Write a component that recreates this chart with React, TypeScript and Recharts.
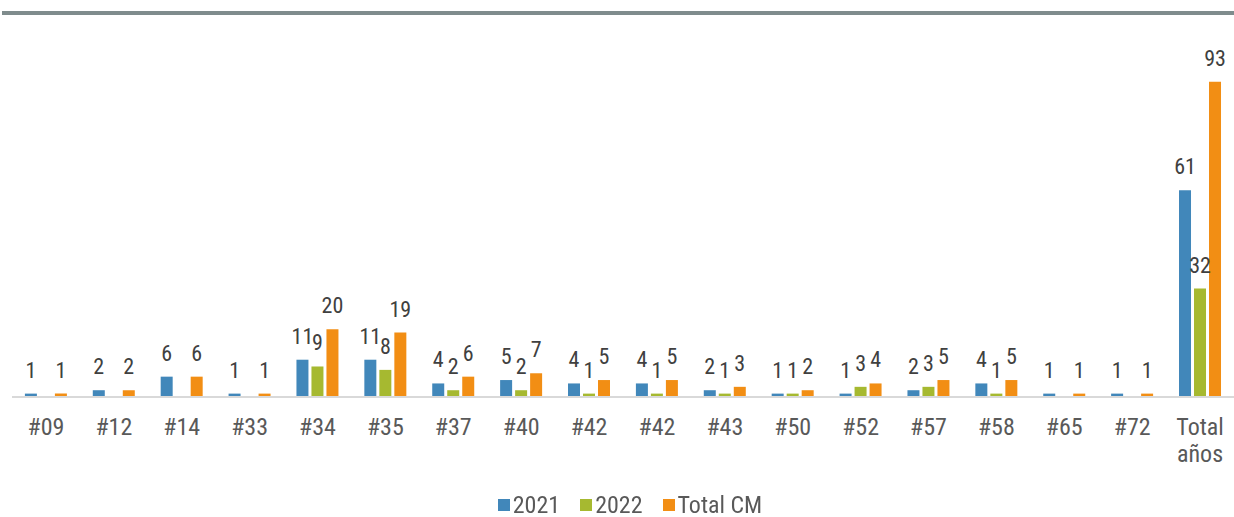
import React from 'react';
import { BarChart, Bar, XAxis, YAxis, Legend, LabelList } from 'recharts';

const categories = ['#09', '#12', '#14', '#33', '#34', '#35', '#37', '#40', '#42', '#42', '#43', '#50', '#52', '#57', '#58', '#65', '#72', 'Total años'];
const values2021 = [1, 2, 6, 1, 11, 11, 4, 5, 4, 4, 2, 1, 1, 2, 4, 1, 1, 61];
const values2022 = [0, 0, 0, 0, 9, 8, 2, 2, 1, 1, 1, 1, 3, 3, 1, 0, 0, 32];
const valuesTotal = [1, 2, 6, 1, 20, 19, 6, 7, 5, 5, 3, 2, 4, 5, 5, 1, 1, 93];

const series = [
  { key: 'y2021', name: '2021', color: '#4187BA' },
  { key: 'y2022', name: '2022', color: '#A6B930' },
  { key: 'total', name: 'Total CM', color: '#F28E14' },
];

const FONT = "'Liberation Sans Narrow', 'Roboto Condensed', Roboto, sans-serif";

const data = categories.map((name, i) => ({
  name,
  y2021: values2021[i],
  y2022: values2022[i],
  total: valuesTotal[i],
}));

const CategoryTick = (props: any) => {
  const { x, y, payload } = props;
  const lines = String(payload.value).split(' ');
  return (
    <text x={x} y={y + 36} textAnchor="middle" fill="#595959" fontSize={24} fontFamily={FONT}>
      {lines.map((l, i) => (
        <tspan key={i} x={x} dy={i === 0 ? 0 : 27}>{l}</tspan>
      ))}
    </text>
  );
};

const BarLabel = (props: any) => {
  const { x, y, width, value } = props;
  if (!value) return null;
  return (
    <text x={x + width / 2} y={y - 16} textAnchor="middle" fill="#404040" fontSize={22} fontFamily={FONT}>
      {value}
    </text>
  );
};

const LegendContent = () => (
  <div style={{ height: 40, display: 'flex', justifyContent: 'center', alignItems: 'flex-end', fontFamily: FONT, fontSize: 24, color: '#595959', lineHeight: '24px', paddingLeft: 14 }}>
    {series.map(s => (
      <div key={s.key} style={{ display: 'flex', alignItems: 'center', margin: '0 10px' }}>
        <span style={{ width: 12, height: 12, background: s.color, marginRight: 3, display: 'inline-block' }} />
        <span>{s.name}</span>
      </div>
    ))}
  </div>
);

export default function App() {
  return (
    <div style={{ position: 'fixed', left: 0, top: 0, width: 1234, height: 517, background: '#fff' }}>
      <div style={{ position: 'absolute', left: 2, top: 11, width: 1232, height: 4, background: '#7F8C8D' }} />
      <BarChart
        width={1234}
        height={517}
        data={data}
        margin={{ top: 58, right: 0, left: 12, bottom: 0 }}
        barCategoryGap="19%"
        barGap={3}
      >
        <XAxis
          dataKey="name"
          axisLine={{ stroke: '#D9D9D9', strokeWidth: 2 }}
          tickLine={false}
          tickSize={0}
          height={80}
          interval={0}
          tick={<CategoryTick />}
        />
        <YAxis hide domain={[0, 100]} />
        <Legend verticalAlign="bottom" content={<LegendContent />} />
        {series.map(s => (
          <Bar key={s.key} dataKey={s.key} name={s.name} fill={s.color} isAnimationActive={false}>
            <LabelList dataKey={s.key} content={<BarLabel />} />
          </Bar>
        ))}
      </BarChart>
    </div>
  );
}
